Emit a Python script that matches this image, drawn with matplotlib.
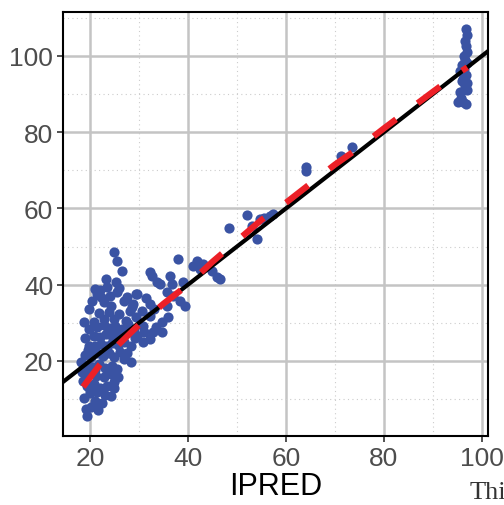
import matplotlib

matplotlib.use("Agg", force=True)
import matplotlib.pyplot as plt
import numpy as np
from matplotlib.ticker import MultipleLocator

low_x = [19.4, 19.2, 18.8, 20.3, 21.0, 21.6, 22.5, 20.0, 21.5, 23.0, 24.3, 22.0, 19.3, 20.8, 23.5,
         25.0, 24.9, 18.4, 19.8, 21.2, 22.8, 24.2, 25.8, 18.2, 19.5, 20.6, 21.8, 23.0, 24.4, 25.6,
         26.9, 28.4, 19.0, 20.2, 21.4, 22.6, 23.8, 25.0, 26.2, 27.5, 19.8, 21.0, 22.2, 23.4, 24.6,
         25.8, 27.0, 28.3, 20.8, 22.0, 23.2, 24.4, 25.6, 26.8, 28.0, 29.2, 19.8, 21.5, 22.8, 24.0,
         25.2, 26.5, 27.8, 29.0, 18.8, 20.8, 22.9, 24.9, 27.3, 29.4, 21.8, 23.8, 26.0, 28.2, 19.8,
         22.9, 24.3, 26.9, 28.6, 20.4, 21.4, 25.5, 29.4, 22.2, 23.3, 25.3, 26.5, 25.5, 24.9, 21.0,
         22.0, 24.0, 27.5, 23.5, 26.0, 20.0, 21.0, 19.6, 18.6, 18.9]
low_y = [5.5, 7.5, 10.2, 8.0, 9.5, 7.2, 9.0, 11.5, 11.8, 11.0, 10.8, 13.0, 13.5, 14.0, 13.5,
         12.8, 14.5, 17.0, 16.5, 16.0, 15.8, 16.5, 15.8, 19.7, 19.0, 18.5, 19.3, 18.2, 18.8, 18.0,
         20.5, 19.7, 21.5, 21.0, 22.0, 21.3, 22.2, 21.0, 22.3, 22.0, 24.0, 23.8, 24.5, 24.0, 24.8,
         24.2, 24.9, 24.0, 26.6, 26.2, 27.0, 26.5, 27.2, 26.8, 27.5, 26.0, 28.5, 28.8, 29.5, 28.6,
         29.2, 28.5, 29.8, 27.9, 30.2, 30.2, 31.0, 31.0, 30.5, 31.5, 32.5, 32.8, 32.2, 33.0, 33.6,
         35.5, 34.4, 35.7, 34.1, 35.7, 37.6, 38.1, 37.6, 36.8, 41.5, 40.7, 43.6, 46.2, 48.6, 39.0,
         38.5, 37.0, 36.8, 39.5, 39.2, 12.5, 17.5, 23.0, 14.8, 26.0]

mid_x = [29.6, 28.8, 30.6, 32.2, 34.7, 30.8, 32.9, 34.7, 29.6, 30.8, 32.2, 32.2, 32.6, 36.3, 34.3,
         36.7, 39.0, 35.7, 37.0, 38.4, 39.4, 35.7, 32.2, 33.7, 31.5, 33.0, 36.0, 31.0, 33.5,
         38.0, 41.8, 42.4, 45.9, 46.5, 44.9, 41.0, 43.0, 48.4,
         52.0, 54.1, 53.0, 54.7, 57.3, 56.7, 55.5,
         64.0, 64.0, 71.2, 73.5]
mid_y = [37.6, 35.0, 33.1, 31.8, 30.2, 29.2, 27.6, 27.6, 26.6, 25.0, 25.8, 43.3, 42.3, 42.3, 40.2,
         40.2, 40.7, 38.1, 37.0, 35.7, 34.4, 34.4, 35.0, 40.7, 36.5, 33.5, 31.5, 27.5, 29.0,
         46.8, 46.2, 44.1, 42.0, 41.5, 43.6, 44.9, 45.5, 54.9,
         58.3, 52.0, 55.4, 57.2, 58.6, 58.0, 57.5,
         70.9, 69.8, 73.8, 76.0]

high_x = [96.8, 96.9, 96.5, 96.7, 97.0, 96.3, 96.6, 96.9, 96.0, 96.4, 95.6, 96.8, 96.2, 97.0,
          96.5, 96.9, 95.8, 96.2, 96.7, 95.5, 96.0, 95.1]
high_y = [107.0, 105.5, 104.0, 102.5, 101.0, 100.0, 99.0, 98.0, 97.5, 96.5, 96.0, 95.0, 94.0, 93.0,
          92.0, 91.0, 89.0, 88.0, 87.5, 90.5, 93.5, 88.0]

# smoother through the data (red dashed)
smooth_x = [18.6, 22, 26, 30, 35, 40, 45, 50, 55, 60, 65, 70, 75, 80, 85, 90, 95, 97]
smooth_y = [13.2, 19.0, 24.5, 29.5, 35.0, 40.0, 46.0, 51.5, 57.0, 61.5, 66.5, 71.5, 76.0, 81.0,
            85.8, 90.6, 95.3, 97.0]

x_ticks = [20, 40, 60, 80, 100]
y_ticks = [20, 40, 60, 80, 100]

plt.rcParams["font.family"] = ["Liberation Sans", "DejaVu Sans"]

ipred = np.array(low_x + mid_x + high_x)
dv = np.array(low_y + mid_y + high_y)

fig = plt.figure(figsize=(5.04, 5.06), dpi=100)
ax = fig.add_axes([0.125, 0.1364, 0.843, 0.8379])

ax.set_xlim(14.5, 101.2)
ax.set_ylim(0.33, 111.5)
ax.set_xticks(x_ticks)
ax.set_yticks(y_ticks)
ax.xaxis.set_minor_locator(MultipleLocator(10))
ax.yaxis.set_minor_locator(MultipleLocator(10))
ax.grid(which="major", color="#c4c4c4", linewidth=1.8)
ax.grid(which="minor", color="#cccccc", linewidth=0.8, linestyle=(0, (1, 3)))
ax.set_axisbelow(True)

ax.scatter(ipred, dv, s=54, color="#3a53a3", linewidths=0, zorder=3)
ax.axline((0, 0), slope=1, color="black", linewidth=3, zorder=4)
ax.plot(smooth_x, smooth_y, color="#ec2027", linewidth=4.5, linestyle=(0, (4.5, 4.3)),
        solid_capstyle="butt", dash_capstyle="butt", zorder=5)

for side in ax.spines.values():
    side.set_color("black")
    side.set_linewidth(1.5)
ax.tick_params(which="major", length=4, width=1.2, color="#333333", labelcolor="#4d4d4d",
               labelsize=19, pad=3)
ax.tick_params(which="minor", length=0)

ax.set_xlabel("IPRED", fontsize=22, color="black", labelpad=1)
fig.text(0.932, 0.013, "Thi", family="Liberation Serif", fontsize=19, color="#333333",
         ha="left", va="baseline")

fig.savefig("out.png", dpi=100)
